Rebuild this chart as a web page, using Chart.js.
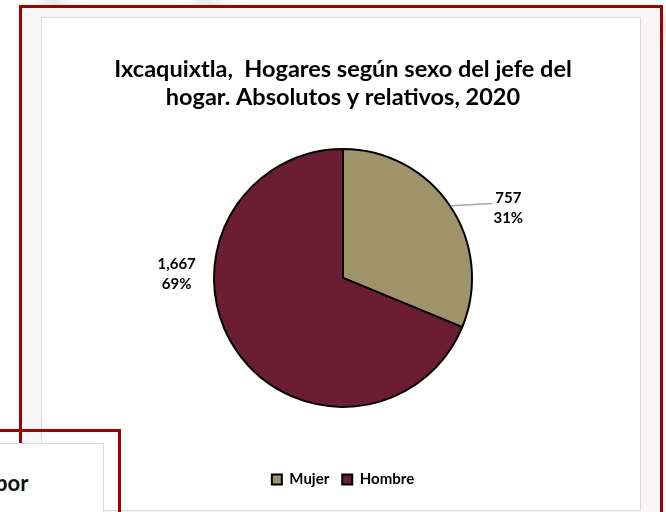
<!DOCTYPE html>
<html>
<head>
<meta charset="utf-8">
<script src="https://cdn.jsdelivr.net/npm/chart.js@4.4.1/dist/chart.umd.min.js"></script>
<style>
  html, body { margin: 0; padding: 0; }
  body { width: 666px; height: 512px; overflow: hidden; position: relative; background: #fff; font-family: Lato, "Open Sans", sans-serif; }
  .swoosh { position: absolute; border-radius: 50%; border: 18px solid #e4e4e4; filter: blur(6px); opacity: 0.8; }
  .frame { position: absolute; border: 3px solid #a00000; box-sizing: border-box; }
  .panel { position: absolute; border: 1px solid #d9d9d9; box-sizing: border-box; background: #fff; }
  #f1 { left: 19px; top: 5px; width: 644px; height: 530px; background: #f7f5f5; }
  #p1 { left: 41px; top: 17px; width: 600px; height: 494px; }
  #f2 { left: -10px; top: 429px; width: 131px; height: 100px; background: transparent; }
  #p2 { left: -10px; top: 443px; width: 114px; height: 80px; }
  #por { position: absolute; left: -5px; top: 469px; font: bold 22px Lato, sans-serif; color: #111; }
  canvas { position: absolute; left: 45px; top: 17px; }
</style>
</head>
<body>
<div class="swoosh" style="left:-160px; top:-40px; width:260px; height:520px;"></div>
<div class="swoosh" style="left:180px; top:-120px; width:520px; height:150px;"></div>
<div class="frame" id="f1"></div>
<div class="panel" id="p1"></div>
<canvas id="chart" width="596" height="495"></canvas>
<div class="frame" id="f2"></div>
<div class="panel" id="p2"></div>
<div id="por">por</div>
<script>
// datos
const categorias = ['Mujer', 'Hombre'];
const hogares = [757, 1667];
const colores = ['#a0936b', '#6b1d33'];
const titulo = ['Ixcaquixtla,  Hogares según sexo del jefe del', 'hogar. Absolutos y relativos, 2020'];

// posición de etiquetas (giro respecto al ángulo medio y distancia en radios)
const etiquetaGiro = [11, 35];
const etiquetaDist = [1.39, 1.29];
const etiquetaGuia = [true, false];

const FUENTE = 'Lato, "Open Sans", sans-serif';

const etiquetasPlugin = {
  id: 'etiquetas',
  afterDatasetsDraw(chart) {
    const ctx = chart.ctx;
    const meta = chart.getDatasetMeta(0);
    const datos = chart.data.datasets[0].data;
    const total = datos.reduce((a, b) => a + b, 0);
    ctx.save();
    ctx.font = 'bold 15px ' + FUENTE;
    ctx.fillStyle = '#000';
    ctx.textAlign = 'center';
    ctx.textBaseline = 'middle';
    meta.data.forEach((arc, i) => {
      const { x, y, startAngle, endAngle, outerRadius } = arc.getProps(['x', 'y', 'startAngle', 'endAngle', 'outerRadius'], true);
      const medio = (startAngle + endAngle) / 2;
      const ang = medio + etiquetaGiro[i] * Math.PI / 180;
      const lx = x + Math.cos(ang) * outerRadius * etiquetaDist[i];
      const ly = y + Math.sin(ang) * outerRadius * etiquetaDist[i];
      const valor = datos[i].toLocaleString('en-US');
      const pct = Math.round(datos[i] / total * 100) + '%';
      if (etiquetaGuia[i]) {
        const ancho = ctx.measureText(valor).width;
        ctx.strokeStyle = '#a6a6a6';
        ctx.lineWidth = 1.5;
        ctx.beginPath();
        ctx.moveTo(x + Math.cos(medio) * (outerRadius + 1), y + Math.sin(medio) * (outerRadius + 1));
        ctx.lineTo(lx - ancho / 2 - 3, ly - 5);
        ctx.stroke();
      }
      ctx.fillText(valor, lx, ly - 10);
      ctx.fillText(pct, lx, ly + 10);
    });
    ctx.restore();
  }
};

new Chart(document.getElementById('chart'), {
  type: 'pie',
  data: {
    labels: categorias,
    datasets: [{
      data: hogares,
      backgroundColor: colores,
      borderColor: '#000',
      borderWidth: 2,
      radius: 129
    }]
  },
  options: {
    responsive: false,
    animation: false,
    layout: { padding: { bottom: 15 } },
    plugins: {
      title: {
        display: true,
        text: titulo,
        color: '#000',
        font: { family: FUENTE, size: 23.5, weight: 'bold', lineHeight: 1.21 },
        padding: { top: 38, bottom: 0 }
      },
      legend: {
        position: 'bottom',
        title: { display: true, text: '', font: { size: 1, lineHeight: 1 }, padding: { top: 14, bottom: 0 } },
        labels: {
          boxWidth: 10,
          boxHeight: 10,
          padding: 13,
          color: '#000',
          font: { family: FUENTE, size: 15, weight: 'bold' }
        }
      },
      tooltip: { enabled: false }
    }
  },
  plugins: [etiquetasPlugin]
});
</script>
</body>
</html>
